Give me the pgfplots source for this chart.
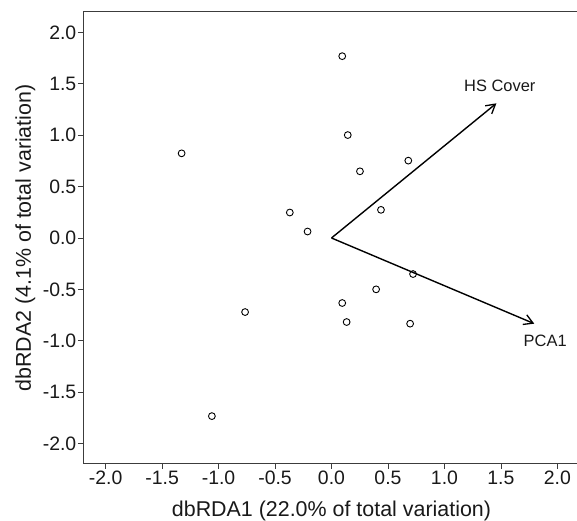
\documentclass[border=0pt]{standalone}
\usepackage{fontspec}
\setmainfont{Liberation Sans}
\usepackage{pgfplots}
\pgfplotsset{compat=1.18}
\usetikzlibrary{arrows.meta}

\definecolor{boxgray}{RGB}{60,60,60}

\begin{document}
\begin{tikzpicture}
\begin{axis}[
    scale only axis,
    width=497bp, height=452bp,
    xmin=-2.2, xmax=2.2,
    ymin=-2.2, ymax=2.2,
    xtick={-2,-1.5,...,2},
    ytick={-2,-1.5,...,2},
    tick align=outside,
    major tick length=5bp,
    tick style={boxgray, line width=0.8bp},
    axis line style={boxgray, line width=1bp},
    x axis line style={-}, y axis line style={-},
    xtick pos=bottom, ytick pos=left,
    /pgf/number format/.cd, fixed, fixed zerofill, precision=1, assume math mode=true,
    /pgfplots/.cd,
    ticklabel style={font=\fontsize{19.5}{22}\selectfont, text=black!90, inner sep=1.5bp},
    xlabel={dbRDA1 (22.0\% of total variation)},
    ylabel={dbRDA2 (4.1\% of total variation)},
    label style={font=\fontsize{21.5}{25}\selectfont, text=black!90},
    xlabel style={at={(axis description cs:0.5,-0.117)}, anchor=base},
    ylabel style={at={(axis description cs:-0.116,0.5)}, anchor=center},
    clip=false,
]

% site scores
\addplot[only marks, mark=o, mark size=3.4bp, mark options={line width=0.9bp, black}] coordinates {
    (0.095, 1.770)
    (0.144, 1.002)
    (-1.327, 0.824)
    (0.680, 0.753)
    (0.252, 0.649)
    (0.438, 0.274)
    (-0.369, 0.248)
    (-0.212, 0.063)
    (0.722, -0.351)
    (0.395, -0.500)
    (0.095, -0.633)
    (-0.765, -0.721)
    (0.134, -0.818)
    (0.696, -0.834)
    (-1.059, -1.734)
};

% vectors
\addplot[black, line width=1.4bp, -{Straight Barb[length=9bp, width=10.4bp, line width=1.3bp]}] coordinates {(0,0) (1.46,1.311)};
\addplot[black, line width=1.4bp, -{Straight Barb[length=9bp, width=10.4bp, line width=1.3bp]}] coordinates {(0,0) (1.795,-0.834)};

\node[font=\fontsize{16.5}{19}\selectfont, text=black!90, inner sep=0] at (axis cs:1.49,1.477) {HS Cover};
\node[font=\fontsize{16.5}{19}\selectfont, text=black!90, inner sep=0, anchor=west] at (axis cs:1.70,-1.006) {PCA1};

\end{axis}
\pgfresetboundingbox
\path ([xshift=-83bp,yshift=-57bp]current axis.south west) rectangle ([xshift=-3bp,yshift=12bp]current axis.north east);
\end{tikzpicture}
\end{document}
